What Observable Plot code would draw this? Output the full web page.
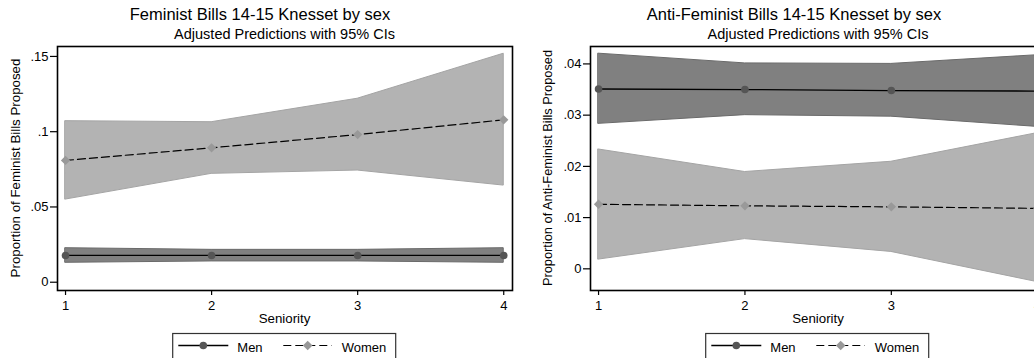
<!DOCTYPE html>
<html>
<head>
<meta charset="utf-8">
<script src="https://cdn.jsdelivr.net/npm/d3@7"></script>
<script src="https://cdn.jsdelivr.net/npm/@observablehq/plot@0.6"></script>
<style>
  html, body { margin: 0; padding: 0; background: #fff; overflow: hidden; width: 1034px; height: 358px; }
  #root { position: relative; width: 1100px; height: 358px; font-family: "Liberation Sans", Arial, sans-serif; }
  .panel { position: absolute; top: 0; }
  #overlay { position: absolute; left: 0; top: 0; pointer-events: none; }
</style>
</head>
<body>
<div id="root"></div>
<script>
// ---- data ----
const seniority = [1, 2, 3, 4];
const seriesNames = ["Men", "Women"];

// Feminist bills
const femTitle = "Feminist Bills 14-15 Knesset by sex";
const femYLabel = "Proportion of Feminist Bills Proposed";
const femYTicks = [0, 0.05, 0.1, 0.15];
const femMen    = [0.0178, 0.0178, 0.0178, 0.0178];
const femMenLo  = [0.0129, 0.0138, 0.0138, 0.0129];
const femMenHi  = [0.0226, 0.0215, 0.0215, 0.0226];
const femWomen   = [0.0809, 0.0893, 0.0981, 0.1079];
const femWomenLo = [0.0549, 0.0720, 0.0742, 0.0642];
const femWomenHi = [0.1070, 0.1063, 0.1219, 0.1518];

// Anti-feminist bills
const antiTitle = "Anti-Feminist Bills 14-15 Knesset by sex";
const antiYLabel = "Proportion of Anti-Feminist Bills Proposed";
const antiYTicks = [0, 0.01, 0.02, 0.03, 0.04];
const antiMen    = [0.0351, 0.0350, 0.0348, 0.0347];
const antiMenLo  = [0.0283, 0.0300, 0.0297, 0.0277];
const antiMenHi  = [0.0420, 0.0401, 0.0400, 0.0417];
const antiWomen   = [0.0126, 0.0123, 0.0121, 0.0118];
const antiWomenLo = [0.0018, 0.0058, 0.0033, -0.0026];
const antiWomenHi = [0.0233, 0.0189, 0.0209, 0.0265];

const subtitle = "Adjusted Predictions with 95% CIs";
const xLabel = "Seniority";

// ---- style ----
const FONT = "Liberation Sans, Arial, Helvetica, sans-serif";
const menBand = "#808080", menBandEdge = "#6a6a6a";
const womenBand = "#b3b3b3", womenBandEdge = "#a4a4a4";
const menMarker = "#555555", womenMarker = "#999999";

const fmt = d => d === 0 ? "0" : String(+d.toFixed(4)).replace(/^0\./, ".").replace(/^-0\./, "-.");

function panel({men, menLo, menHi, women, womenLo, womenHi, yDomain, yTicks, width, marginLeft}) {
  const rows = seniority.map((s, i) => ({
    s, m: men[i], mlo: menLo[i], mhi: menHi[i], w: women[i], wlo: womenLo[i], whi: womenHi[i]
  }));
  return Plot.plot({
    width, height: 358,
    marginLeft, marginRight: 8, marginTop: 46, marginBottom: 68,
    style: { fontFamily: FONT, fontSize: "13px", color: "#000", background: "transparent", overflow: "visible" },
    x: { domain: [0.945, 4.06] },
    y: { domain: yDomain },
    marks: [
      Plot.areaY(rows, { x: "s", y1: "wlo", y2: "whi", fill: womenBand, stroke: womenBandEdge, strokeWidth: 1 }),
      Plot.areaY(rows, { x: "s", y1: "mlo", y2: "mhi", fill: menBand, stroke: menBandEdge, strokeWidth: 1 }),
      Plot.lineY(rows, { x: "s", y: "w", stroke: "#000", strokeWidth: 1.2, strokeDasharray: "8,4" }),
      Plot.lineY(rows, { x: "s", y: "m", stroke: "#000", strokeWidth: 1.3 }),
      Plot.dot(rows, { x: "s", y: "m", r: 3.8, fill: menMarker, stroke: null, symbol: "circle" }),
      Plot.dot(rows, { x: "s", y: "w", r: 4.2, fill: womenMarker, stroke: null, symbol: "diamond2" }),
      Plot.axisY({ ticks: yTicks, tickFormat: fmt, tickSize: 7, tickPadding: 2, label: null, stroke: "#000", strokeWidth: 1.2 }),
      Plot.axisX({ ticks: seniority, tickFormat: d => String(d), tickSize: 5, tickPadding: 5, label: null, stroke: "#000", strokeWidth: 1.2 }),
      Plot.frame({ stroke: "#000", strokeWidth: 1.6 })
    ]
  });
}

const root = document.getElementById("root");

const p1 = panel({ men: femMen, menLo: femMenLo, menHi: femMenHi, women: femWomen, womenLo: femWomenLo, womenHi: femWomenHi,
  yDomain: [-0.0055, 0.1566], yTicks: femYTicks, width: 520, marginLeft: 57 });
p1.classList.add("panel"); p1.style.left = "0px";
root.appendChild(p1);

const p2 = panel({ men: antiMen, menLo: antiMenLo, menHi: antiMenHi, women: antiWomen, womenLo: antiWomenLo, womenHi: antiWomenHi,
  yDomain: [-0.00423, 0.0434], yTicks: antiYTicks, width: 534, marginLeft: 70 });
p2.classList.add("panel"); p2.style.left = "520px";
root.appendChild(p2);

// ---- overlay: titles, axis labels, legends ----
const svgNS = "http://www.w3.org/2000/svg";
const ov = document.createElementNS(svgNS, "svg");
ov.setAttribute("id", "overlay");
ov.setAttribute("width", 1100);
ov.setAttribute("height", 358);
ov.setAttribute("font-family", FONT);
root.appendChild(ov);

function el(tag, attrs, text) {
  const e = document.createElementNS(svgNS, tag);
  for (const k in attrs) e.setAttribute(k, attrs[k]);
  if (text != null) e.textContent = text;
  ov.appendChild(e);
  return e;
}

function decorate({ offset, title, titleX, subX, yLabel, yLabelX, yLabelSize }) {
  el("text", { x: titleX, y: 20, "text-anchor": "middle", "font-size": "16.5px", fill: "#000" }, title);
  el("text", { x: subX, y: 38.5, "text-anchor": "middle", "font-size": "14.5px", fill: "#000" }, subtitle);
  el("text", { x: subX, y: 323, "text-anchor": "middle", "font-size": "13.3px", fill: "#000" }, xLabel);
  el("text", { x: 0, y: 0, "text-anchor": "middle", "font-size": yLabelSize, fill: "#000",
    transform: `translate(${yLabelX},168) rotate(-90)` }, yLabel);
  // legend
  const bx = 172.7 + offset;
  el("rect", { x: bx, y: 333.5, width: 223, height: 40, fill: "#fff", stroke: "#333", "stroke-width": 1.2 });
  const ly = 345.5;
  el("line", { x1: bx + 5.6, x2: bx + 55.6, y1: ly, y2: ly, stroke: "#000", "stroke-width": 1.3 });
  el("circle", { cx: bx + 30.6, cy: ly, r: 3.8, fill: menMarker });
  el("text", { x: bx + 64.6, y: 351.5, "font-size": "13px", fill: "#000" }, seriesNames[0]);
  el("line", { x1: bx + 110.6, x2: bx + 159, y1: ly, y2: ly, stroke: "#000", "stroke-width": 1.2, "stroke-dasharray": "8,4" });
  const dx = bx + 135, s = 4.8;
  el("path", { d: `M${dx},${ly - s}L${dx + s},${ly}L${dx},${ly + s}L${dx - s},${ly}Z`, fill: womenMarker });
  el("text", { x: bx + 169, y: 351.5, "font-size": "13px", fill: "#000" }, seriesNames[1]);
}

decorate({ offset: 0, title: femTitle, titleX: 260, subX: 284.5, yLabel: femYLabel, yLabelX: 19.5, yLabelSize: "13.3px" });
decorate({ offset: 533, title: antiTitle, titleX: 794, subX: 818, yLabel: antiYLabel, yLabelX: 551.5, yLabelSize: "12.8px" });
</script>
</body>
</html>
